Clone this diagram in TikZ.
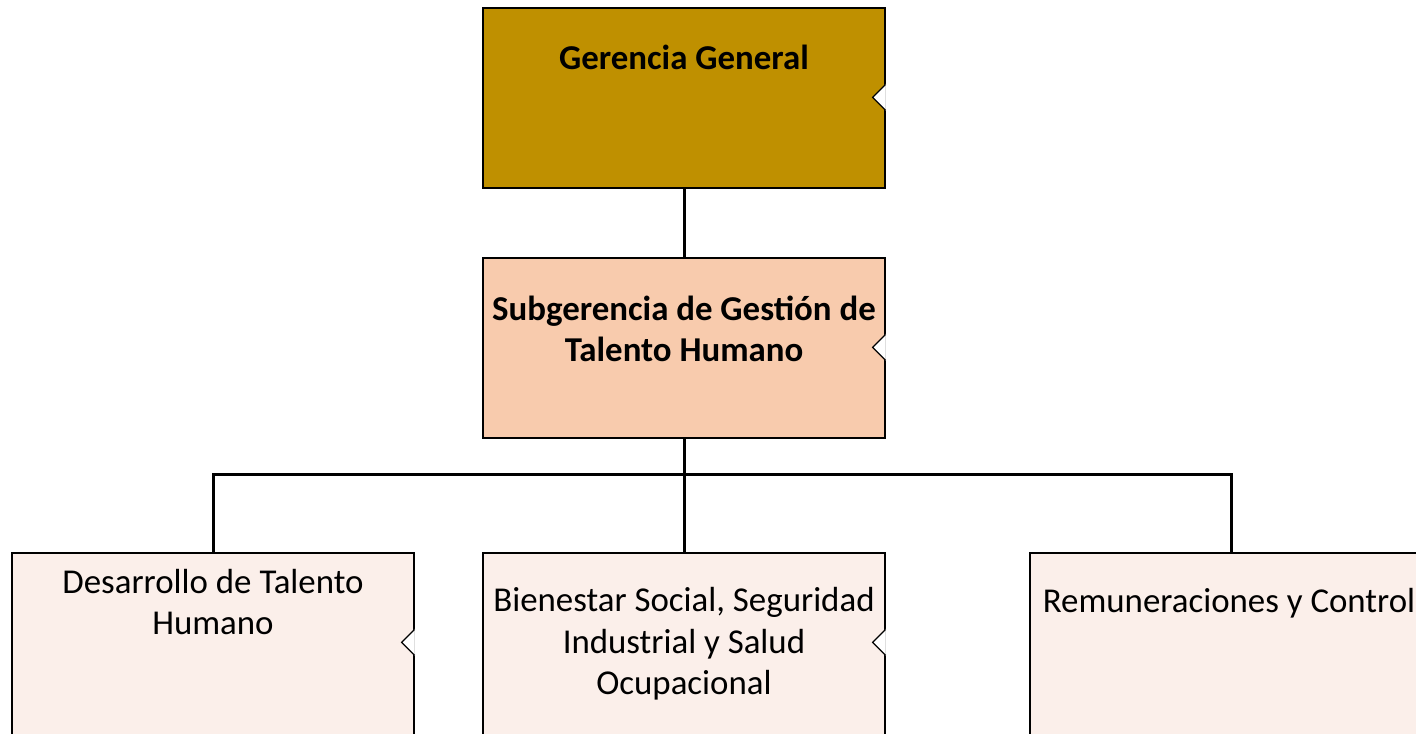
\documentclass[tikz,border=0pt]{standalone}
\usepackage{fontspec}
\setmainfont{Carlito}
\usetikzlibrary{positioning}
\definecolor{oro}{HTML}{BF9000}
\definecolor{salmon}{HTML}{F8CBAD}
\definecolor{crema}{HTML}{FBEFEA}
\begin{document}
\begin{tikzpicture}[x=1bp, y=-1bp,
    puesto/.style = {draw, line width=1.2bp, minimum width=402bp, minimum height=180bp, inner sep=0pt},
    texto/.style = {align=center, font=\fontsize{35}{41.5}\selectfont},
    enlace/.style = {line width=3bp}]
    \useasboundingbox (0,0) rectangle (1416,733);
    \fill[white] (0,0) rectangle (1416,733);
    % cajas
    \node[puesto, fill=oro] (gg) at (684,98) {};
    \node[puesto, fill=salmon] (sub) at (684,348) {};
    \node[puesto, fill=crema, minimum height=220bp] (dth) at (213,663) {};
    \node[puesto, fill=crema, minimum height=220bp] (bss) at (684,663) {};
    \node[puesto, fill=crema, minimum height=220bp] (rc) at (1231,663) {};
    % muescas
    \foreach \c in {gg, sub, dth, bss, rc}
        \filldraw[white] ([yshift=-77bp]\c.north east) -- ++(-13bp,-13bp) -- ++(13bp,-13bp) -- cycle;
    \foreach \c in {gg, sub, dth, bss, rc}
        \draw[line width=1.2bp] ([yshift=-77bp]\c.north east) -- ++(-13bp,-13bp) -- ++(13bp,-13bp);
    % textos
    \node[texto, font=\fontsize{35}{41.5}\selectfont\bfseries] (tgg) at (684,57) {Gerencia General};
    \node[texto, font=\fontsize{35}{41.5}\selectfont\bfseries] (tsub) at (684,329) {Subgerencia de Gestión de\\Talento Humano};
    \node[texto] (tdth) at (213,602) {Desarrollo de Talento\\Humano};
    \node[texto] (tbss) at (684,644) {Bienestar Social, Seguridad\\Industrial y Salud\\Ocupacional};
    \node[texto] (trc) at (1229,603) {Remuneraciones y Control};
    % conectores
    \coordinate (rama) at (684,474);
    \draw[enlace] (gg.south) -- (sub.north);
    \draw[enlace] (sub.south) -- (rama);
    \draw[enlace] (rama) -| (dth.north);
    \draw[enlace] (rama) -- (bss.north);
    \draw[enlace] (rama) -| (rc.north);
\end{tikzpicture}
\end{document}
